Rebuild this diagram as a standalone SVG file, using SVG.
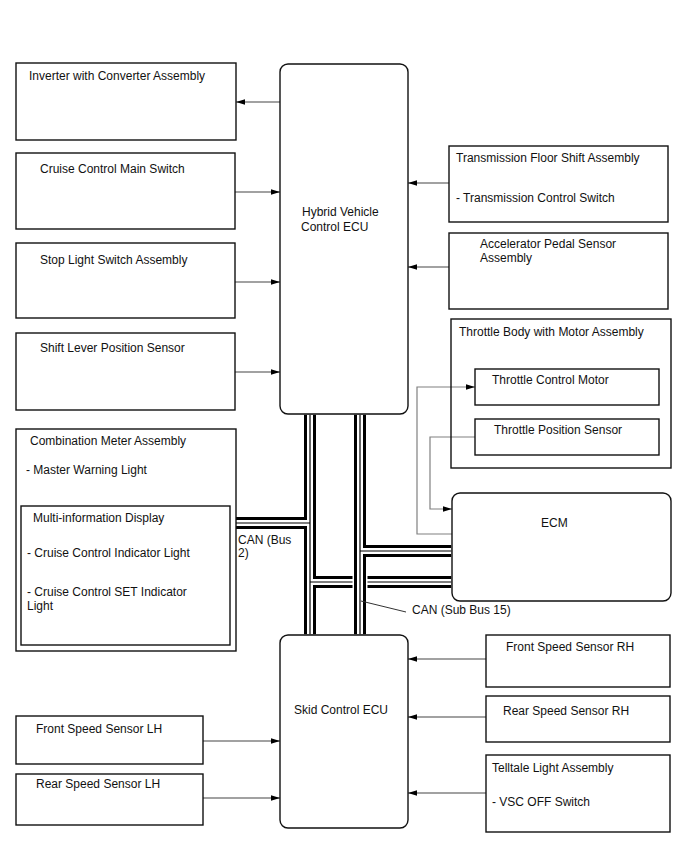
<svg xmlns="http://www.w3.org/2000/svg" width="688" height="852" viewBox="0 0 688 852">
<defs>
<marker id="ah" markerWidth="9" markerHeight="6" refX="9" refY="3" orient="auto" markerUnits="userSpaceOnUse">
<path d="M0,0.2 L9,3 L0,5.8 z" fill="#000"/>
</marker>
<style>
text{font-family:"Liberation Sans",Arial,sans-serif;font-size:12px;fill:#111}
.box{fill:none;stroke:#111;stroke-width:1.4}
.ecu{fill:none;stroke:#111;stroke-width:1.4}
.wire{fill:none;stroke:#444;stroke-width:1.1;marker-end:url(#ah)}
.gwire{fill:none;stroke:#808080;stroke-width:1.2}
.gwa{marker-end:url(#ah)}
.bk{fill:none;stroke:#000;stroke-width:12}
.wh{fill:none;stroke:#fff;stroke-width:6}
.ct{fill:none;stroke:#000;stroke-width:1.2}
.under{fill:none;stroke:#fff;stroke-width:15}
</style>
</defs>
<rect x="0" y="0" width="688" height="852" fill="#fff"/>
<g id="connectors">
<path class="wire" d="M280,102 H236"/>
<path class="wire" d="M235,192 H280"/>
<path class="wire" d="M235,282 H280"/>
<path class="wire" d="M235,372 H280"/>
<path class="wire" d="M449,183 H408"/>
<path class="wire" d="M449,267 H408"/>
<path class="wire" d="M486,659 H408"/>
<path class="wire" d="M486,717 H408"/>
<path class="wire" d="M486,793 H408"/>
<path class="wire" d="M203,741 H280"/>
<path class="wire" d="M203,798 H280"/>
<path class="gwire gwa" d="M452,534 H417 V387 H475"/>
<path class="gwire gwa" d="M475,437 H430 V509 H452"/>
<g id="busA">
<path class="bk" d="M310,414.7 V634.3 M236,523 H310 M310,582 H451.3"/>
<path class="wh" d="M310,414.7 V634.3 M236,523 H310 M310,582 H451.3"/>
<path class="ct" d="M310,414.7 V634.3 M236,523 H310 M310,582 H451.3"/>
</g>
<g id="busB">
<path class="under" d="M360,570 V594"/>
<path class="bk" d="M360,414.7 V634.3 M360,551 H451.3"/>
<path class="wh" d="M360,414.7 V634.3 M360,551 H451.3"/>
<path class="ct" d="M360,414.7 V634.3 M360,551 H451.3"/>
</g>
<path d="M361,601 L406,612" fill="none" stroke="#333" stroke-width="1"/>
<text x="238" y="543.5">CAN (Bus</text>
<text x="238" y="557">2)</text>
<text x="412" y="613.5">CAN (Sub Bus 15)</text>
</g>
<g id="inverter">
<rect class="box" x="16" y="63" width="220" height="77"/>
<text x="29" y="80">Inverter with Converter Assembly</text>
</g>
<g id="cruise-main-switch">
<rect class="box" x="16" y="153" width="219" height="76"/>
<text x="40" y="173">Cruise Control Main Switch</text>
</g>
<g id="stop-light-switch">
<rect class="box" x="16" y="243" width="219" height="75"/>
<text x="40" y="264">Stop Light Switch Assembly</text>
</g>
<g id="shift-lever-sensor">
<rect class="box" x="16" y="333" width="219" height="77"/>
<text x="40" y="352">Shift Lever Position Sensor</text>
</g>
<g id="hv-ecu">
<rect class="ecu" x="280" y="64" width="128" height="350" rx="8"/>
<text x="302" y="216">Hybrid Vehicle</text>
<text x="301" y="231">Control ECU</text>
</g>
<g id="transmission-floor-shift">
<rect class="box" x="449" y="146" width="219" height="76"/>
<text x="456" y="162">Transmission Floor Shift Assembly</text>
<text x="456" y="202">- Transmission Control Switch</text>
</g>
<g id="accelerator-pedal-sensor">
<rect class="box" x="449" y="233" width="219" height="76"/>
<text x="480" y="248">Accelerator Pedal Sensor</text>
<text x="480" y="262">Assembly</text>
</g>
<g id="throttle-body">
<rect class="box" x="451" y="319" width="220" height="149"/>
<text x="459" y="336">Throttle Body with Motor Assembly</text>
</g>
<g id="throttle-control-motor">
<rect class="box" x="475" y="369" width="184" height="36"/>
<text x="492" y="384">Throttle Control Motor</text>
</g>
<g id="throttle-position-sensor">
<rect class="box" x="475" y="419" width="184" height="36"/>
<text x="494" y="434">Throttle Position Sensor</text>
</g>
<g id="ecm">
<rect class="ecu" x="452" y="493" width="219" height="108" rx="8"/>
<text x="541" y="527">ECM</text>
</g>
<g id="combination-meter">
<rect class="box" x="16" y="429" width="220" height="222"/>
<text x="30" y="445">Combination Meter Assembly</text>
<text x="26" y="474">- Master Warning Light</text>
</g>
<g id="multi-information-display">
<rect class="box" x="21" y="506" width="209" height="139"/>
<text x="33" y="522">Multi-information Display</text>
<text x="27" y="557">- Cruise Control Indicator Light</text>
<text x="27" y="596">- Cruise Control SET Indicator</text>
<text x="27" y="610">Light</text>
</g>
<g id="skid-ecu">
<rect class="ecu" x="280" y="635" width="128" height="193" rx="8"/>
<text x="294" y="714">Skid Control ECU</text>
</g>
<g id="front-speed-sensor-rh">
<rect class="box" x="486" y="635" width="184" height="52"/>
<text x="506" y="651">Front Speed Sensor RH</text>
</g>
<g id="rear-speed-sensor-rh">
<rect class="box" x="486" y="696" width="184" height="46"/>
<text x="503" y="715">Rear Speed Sensor RH</text>
</g>
<g id="telltale-light">
<rect class="box" x="486" y="755" width="184" height="77"/>
<text x="492" y="772">Telltale Light Assembly</text>
<text x="492" y="806">- VSC OFF Switch</text>
</g>
<g id="front-speed-sensor-lh">
<rect class="box" x="16" y="716" width="187" height="48"/>
<text x="36" y="733">Front Speed Sensor LH</text>
</g>
<g id="rear-speed-sensor-lh">
<rect class="box" x="16" y="774" width="187" height="51"/>
<text x="36" y="788">Rear Speed Sensor LH</text>
</g>
</svg>
